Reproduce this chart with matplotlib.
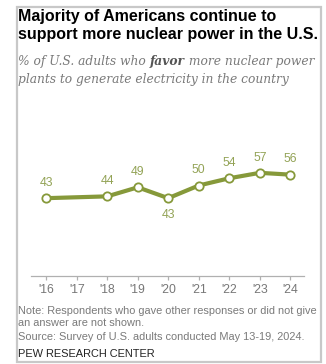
import matplotlib
matplotlib.use("Agg")
import matplotlib.pyplot as plt
from matplotlib.patches import Rectangle

years = [2016, 2018, 2019, 2020, 2021, 2022, 2023, 2024]
favor = [43, 44, 49, 43, 50, 54, 57, 56]
tick_years = list(range(2016, 2025))
tick_labels = ["'16", "'17", "'18", "'19", "'20", "'21", "'22", "'23", "'24"]
label_below = [False, False, False, True, False, False, False, False]

W, H = 326, 364
fig = plt.figure(figsize=(W / 100, H / 100), dpi=100)
fig.patch.set_facecolor("white")

def fx(px):
    return px / W

def fy(py):
    return 1 - py / H

# frame
fig.add_artist(Rectangle((fx(17), fy(362)), fx(304), (362 - 7) / H, transform=fig.transFigure,
                         facecolor="none", edgecolor="#c8c8c8", lw=1.6))

LINE = "#86993a"
LAB = "#93a356"

# title
fig.text(fx(18), fy(17), "Majority of Americans continue to", fontsize=11.5, fontweight="bold",
         family="Liberation Sans", va="center", ha="left", color="#000000")
fig.text(fx(18), fy(35), "support more nuclear power in the U.S.", fontsize=11.5, fontweight="bold",
         family="Liberation Sans", va="center", ha="left", color="#000000")

# subtitle with bold "favor"
sub_family = "DejaVu Serif"
sub_size = 8.8
sub_col = "#7a7a7a"
fig.canvas.draw()
r = fig.canvas.get_renderer()
parts = [("% of U.S. adults who ", "normal", sub_col), ("favor", "bold", "#555555"),
         (" more nuclear power", "normal", sub_col)]
x = fx(18)
for txt, wt, c in parts:
    t = fig.text(x, fy(62), txt, fontsize=sub_size, family=sub_family, style="italic",
                 fontweight=wt, va="center", ha="left", color=c)
    bb = t.get_window_extent(renderer=r)
    x += bb.width / W
fig.text(fx(18), fy(79), "plants to generate electricity in the country", fontsize=sub_size,
         family=sub_family, style="italic", va="center", ha="left", color=sub_col)

# axes
ax = fig.add_axes([fx(31), fy(276), fx(304 - 31), (276 - 95) / H])
ax.set_xlim(2015.5, 2024.45)
ax.set_ylim(0, 100)
ax.plot(years, favor, color=LINE, lw=3, marker="o", markersize=6,
        markerfacecolor="white", markeredgecolor=LINE, markeredgewidth=1.3, zorder=3,
        clip_on=False)
for xv, yv, below in zip(years, favor, label_below):
    off = -12 if below else 11
    ax.annotate(str(yv), (xv, yv), xytext=(0, off), textcoords="offset points",
                ha="center", va="center", fontsize=8.8, color=LAB, family="Liberation Sans")

for s in ["top", "right", "left"]:
    ax.spines[s].set_visible(False)
ax.spines["bottom"].set_color("#b0b0b0")
ax.spines["bottom"].set_linewidth(0.9)
ax.set_yticks([])
ax.set_xticks(tick_years)
ax.set_xticklabels(tick_labels, fontsize=8.8, color="#777777", family="Liberation Sans")
ax.tick_params(axis="x", length=3, color="#b0b0b0", width=0.9, pad=3)
ax.set_facecolor("none")

# notes
note_col = "#7a7a7a"
nfs = 7.9
fig.text(fx(18), fy(311), "Note: Respondents who gave other responses or did not give",
         fontsize=nfs, family="Liberation Sans", va="center", ha="left", color=note_col)
fig.text(fx(18), fy(323), "an answer are not shown.",
         fontsize=nfs, family="Liberation Sans", va="center", ha="left", color=note_col)
fig.text(fx(18), fy(337), "Source: Survey of U.S. adults conducted May 13-19, 2024.",
         fontsize=nfs, family="Liberation Sans", va="center", ha="left", color=note_col)
fig.text(fx(18), fy(354), "PEW RESEARCH CENTER",
         fontsize=nfs, family="Liberation Sans", va="center", ha="left", color="#222222")

fig.savefig("out.png", dpi=100, facecolor="white")
